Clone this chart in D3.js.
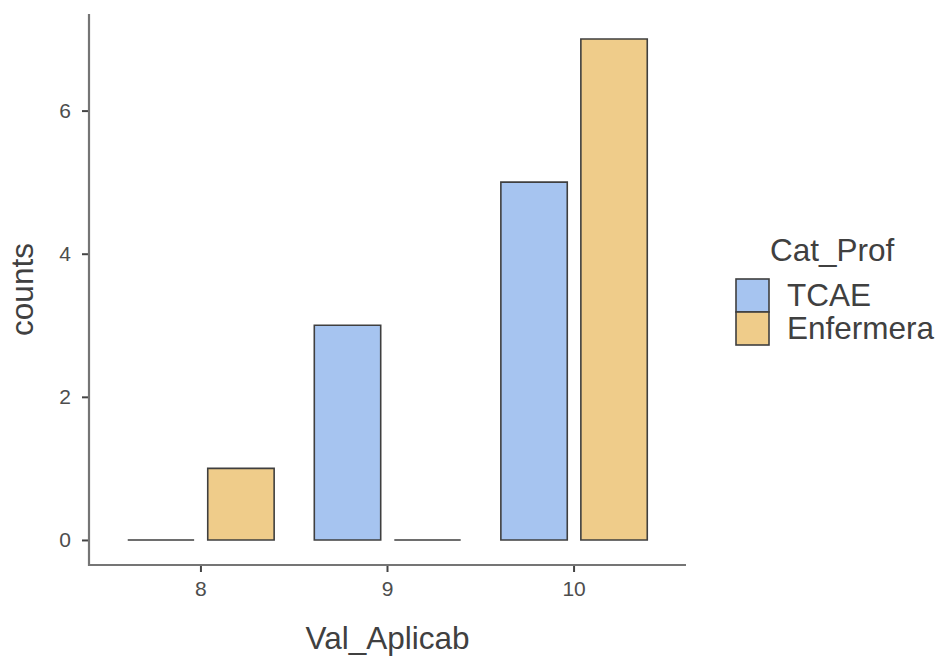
<!DOCTYPE html>
<html>
<head>
<meta charset="utf-8">
<script src="https://cdn.jsdelivr.net/npm/d3@7"></script>
<style>
  html, body { margin: 0; padding: 0; background: #fff; }
  svg { display: block; font-family: "Liberation Sans", Arial, sans-serif; }
</style>
</head>
<body>
<svg id="chart" width="936" height="658"></svg>
<script>
// ---- data ----
const categories = ["8", "9", "10"];
const seriesNames = ["TCAE", "Enfermera"];
const tcaeValues = [0, 3, 5];
const enfermeraValues = [1, 0, 7];
const yTicks = [0, 2, 4, 6];
const seriesColors = ["#A6C4F0", "#EFCC8A"];
const xTitle = "Val_Aplicab";
const yTitle = "counts";
const legendTitle = "Cat_Prof";

const seriesValues = [tcaeValues, enfermeraValues];

const svg = d3.select("#chart");

const plotLeft = 89, plotRight = 686, plotTop = 14, plotBottom = 565;

const x0 = d3.scaleBand()
  .domain(categories)
  .range([plotLeft, plotRight])
  .paddingInner(0)
  .paddingOuter(0.1);

const groupHalf = 80;
const x1 = d3.scaleBand()
  .domain(seriesNames)
  .range([-groupHalf, groupHalf])
  .paddingInner(0.17)
  .paddingOuter(0.085);

const y = d3.scaleLinear()
  .domain([-0.35, 7.35])
  .range([plotBottom, plotTop]);

const color = d3.scaleOrdinal().domain(seriesNames).range(seriesColors);

// bars
const barData = [];
categories.forEach((c, i) => {
  seriesNames.forEach((s, j) => {
    barData.push({ cat: c, series: s, value: seriesValues[j][i] });
  });
});

svg.append("g").selectAll("path")
  .data(barData)
  .join("path")
  .attr("d", d => {
    const cx = x0(d.cat) + x0.bandwidth() / 2;
    const xa = cx + x1(d.series);
    const xb = xa + x1.bandwidth();
    const y0 = y(0), yv = y(d.value);
    return `M${xa},${y0}V${yv}H${xb}V${y0}Z`;
  })
  .attr("fill", d => color(d.series))
  .attr("stroke", "#3f3f3f")
  .attr("stroke-width", 1.6);

// axes
const xAxis = d3.axisBottom(x0).tickSize(7).tickPadding(9);
const gx = svg.append("g")
  .attr("transform", `translate(0,${plotBottom})`)
  .call(xAxis);
gx.select(".domain").remove();

const yAxis = d3.axisLeft(y).tickValues(yTicks).tickSize(7).tickPadding(11);
const gy = svg.append("g")
  .attr("transform", `translate(${plotLeft},0)`)
  .call(yAxis);
gy.select(".domain").remove();

[gx, gy].forEach(g => {
  g.selectAll(".tick line").attr("stroke", "#444").attr("stroke-width", 2);
  g.selectAll(".tick text")
    .attr("fill", "#4d4d4d")
    .style("font-size", "21px")
    .style("font-family", '"Liberation Sans", Arial, sans-serif');
});

// axis lines
svg.append("line")
  .attr("x1", plotLeft).attr("x2", plotLeft)
  .attr("y1", plotTop).attr("y2", plotBottom + 1)
  .attr("stroke", "#757575").attr("stroke-width", 2.2);
svg.append("line")
  .attr("x1", plotLeft - 1).attr("x2", plotRight)
  .attr("y1", plotBottom).attr("y2", plotBottom)
  .attr("stroke", "#757575").attr("stroke-width", 2.2);

// axis titles
svg.append("text")
  .attr("x", (plotLeft + plotRight) / 2)
  .attr("y", 649)
  .attr("text-anchor", "middle")
  .attr("fill", "#404040")
  .style("font-size", "31.5px")
  .text(xTitle);

svg.append("text")
  .attr("transform", `translate(33,${(plotTop + plotBottom) / 2}) rotate(-90)`)
  .attr("text-anchor", "middle")
  .attr("fill", "#404040")
  .style("font-size", "31.5px")
  .text(yTitle);

// legend
const legend = svg.append("g");
legend.append("text")
  .attr("x", 770)
  .attr("y", 261)
  .attr("fill", "#404040")
  .style("font-size", "31.5px")
  .text(legendTitle);

const keySize = 33;
const keyTop = 279;
seriesNames.forEach((s, i) => {
  legend.append("rect")
    .attr("x", 736)
    .attr("y", keyTop + i * keySize)
    .attr("width", keySize)
    .attr("height", keySize)
    .attr("fill", color(s))
    .attr("stroke", "#3f3f3f")
    .attr("stroke-width", 1.6);
  legend.append("text")
    .attr("x", 787)
    .attr("y", keyTop + i * keySize + 27)
    .attr("fill", "#404040")
    .style("font-size", "31.5px")
    .text(s);
});
</script>
</body>
</html>
